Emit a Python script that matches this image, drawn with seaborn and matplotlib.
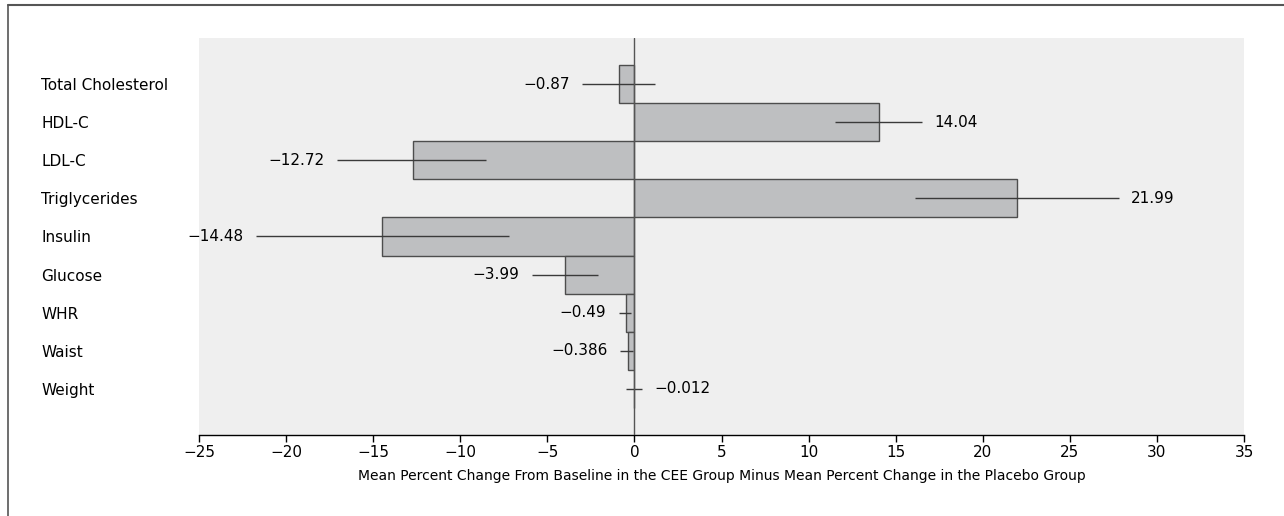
import matplotlib
matplotlib.use("Agg")
import matplotlib.pyplot as plt
import seaborn as sns
import pandas as pd
from matplotlib.lines import Line2D

# Values
measures = ["Total Cholesterol", "HDL-C", "LDL-C", "Triglycerides", "Insulin",
            "Glucose", "WHR", "Waist", "Weight"]
diff = [-0.87, 14.04, -12.72, 21.99, -14.48, -3.99, -0.49, -0.386, -0.012]
ci_low = [-3.0, 11.5, -17.1, 16.1, -21.7, -5.9, -0.9, -0.8, -0.5]
ci_high = [1.2, 16.5, -8.5, 27.8, -7.2, -2.1, -0.2, -0.1, 0.45]
value_text = ["\u22120.87", "14.04", "\u221212.72", "21.99", "\u221214.48",
              "\u22123.99", "\u22120.49", "\u22120.386", "\u22120.012"]
label_right = {"HDL-C", "Triglycerides", "Weight"}

df = pd.DataFrame({"measure": measures, "diff": diff, "lo": ci_low, "hi": ci_high})

sns.set_theme(style="white")
plt.rcParams["font.family"] = ["DejaVu Sans"]
plt.rcParams["axes.unicode_minus"] = True
plt.rcParams["text.color"] = "black"
plt.rcParams["axes.labelcolor"] = "black"
plt.rcParams["xtick.color"] = "black"
plt.rcParams["ytick.color"] = "black"

fig = plt.figure(figsize=(12.84, 5.16), dpi=100)
ax = fig.add_axes([199 / 1284, 1 - 435 / 516, (1244 - 199) / 1284, (435 - 38) / 516])
ax.set_facecolor("#efefef")

sns.barplot(data=df, x="diff", y="measure", orient="h", color="#bebfc1",
            saturation=1, edgecolor="#4d4d4d", linewidth=1, width=1.0,
            errorbar=None, ax=ax, zorder=2)

ypos = range(len(measures))
ax.hlines(ypos, df["lo"], df["hi"], color="#3a3a3a", linewidth=1, zorder=4)
ax.axvline(0, color="#555555", linewidth=1, zorder=5)

for i, m in enumerate(measures):
    if m in label_right:
        ax.annotate(value_text[i], (ci_high[i], i), xytext=(9, 0),
                    textcoords="offset points", ha="left", va="center", fontsize=11)
    else:
        ax.annotate(value_text[i], (ci_low[i], i), xytext=(-9, 0),
                    textcoords="offset points", ha="right", va="center", fontsize=11)

ax.set_xlim(-25, 35)
ax.set_ylim(len(measures) - 1 + 1.22, -1.22)
ax.set_xticks(range(-25, 36, 5))
ax.set_xticklabels([f"\u2212{abs(t)}" if t < 0 else str(t) for t in range(-25, 36, 5)])

for s in ["left", "top", "right"]:
    ax.spines[s].set_visible(False)
ax.spines["bottom"].set_color("black")
ax.spines["bottom"].set_linewidth(1)

ax.tick_params(axis="x", direction="out", length=5, width=1, color="black",
               labelsize=11, pad=2, bottom=True)
ax.tick_params(axis="y", length=0, labelsize=11, pad=(199 - 41) * 0.72)
for lab in ax.get_yticklabels():
    lab.set_ha("left")

ax.set_ylabel("")
ax.set_xlabel("Mean Percent Change From Baseline in the CEE Group Minus Mean Percent Change in the Placebo Group",
              fontsize=10, labelpad=7)

# outer frame of the figure panel
fig.add_artist(Line2D([8 / 1284, 1.0], [1 - 5 / 516, 1 - 5 / 516], color="#555555",
                      linewidth=1.5, transform=fig.transFigure))
fig.add_artist(Line2D([8 / 1284, 8 / 1284], [0, 1 - 5 / 516], color="#555555",
                      linewidth=1.2, transform=fig.transFigure))

fig.savefig("out.png", dpi=100)
